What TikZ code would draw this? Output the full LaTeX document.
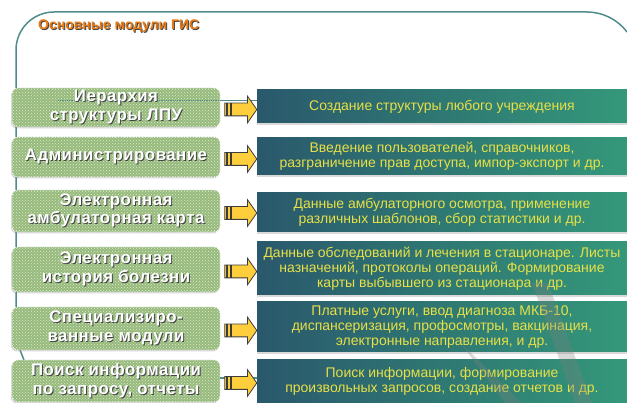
\documentclass[tikz,border=0pt]{standalone}
\usepackage{fontspec}
\setmainfont{Liberation Sans}
\newfontfamily\modfont[LetterSpace=3]{Liberation Sans}
\usetikzlibrary{
    positioning,
    shapes.arrows,
    patterns,
    shadows
}
\definecolor{FrameTeal}{RGB}{80,140,140}
\definecolor{ModGreen}{RGB}{150,186,124}
\definecolor{ModDots}{RGB}{226,236,212}
\definecolor{DescLeft}{RGB}{42,88,108}
\definecolor{DescRight}{RGB}{52,152,122}
\definecolor{DescText}{RGB}{232,224,70}
\definecolor{ArrowYellow}{RGB}{255,206,60}
\definecolor{ArrowEdge}{RGB}{60,60,60}
\definecolor{TitleOrange}{RGB}{232,122,20}
\definecolor{ShadowGrey}{RGB}{70,70,70}

% text with a small grey shadow behind it
\newcommand{\shtxt}[2][ShadowGrey]{\makebox[0pt][l]{\hspace{1pt}\raisebox{-1pt}{\color{#1}#2}}#2}

\begin{document}
\begin{tikzpicture}[
    x=1pt, y=-1pt,
    frameline/.style={draw=FrameTeal, line width=1.5pt},
    modbox/.style={minimum width=208pt, rounded corners=6pt, draw=white, densely dotted, line width=0.8pt,
        drop shadow={shadow xshift=-1pt, shadow yshift=-1.5pt, opacity=0.35},
        preaction={fill=ModGreen}, pattern=crosshatch dots, pattern color=ModDots,
        text=white, font=\modfont\bfseries\fontsize{16.8}{18.5}\selectfont, align=center, inner sep=0pt},
    descbox/.style={minimum width=370pt, left color=DescLeft, right color=DescRight,
        drop shadow={shadow xshift=0pt, shadow yshift=-2pt, opacity=0.3},
        text=DescText, font=\fontsize{14}{15}\selectfont, align=center, inner sep=0pt},
    yarrow/.style={single arrow, draw=ArrowEdge, fill=ArrowYellow, line width=0.8pt,
        minimum height=32pt, inner sep=6pt, single arrow head extend=7pt,
        single arrow tip angle=110, anchor=tail,
        path picture={
            \fill[ArrowEdge] ([xshift=1pt]path picture bounding box.south west) rectangle ([xshift=3pt]path picture bounding box.north west);
            \fill[ArrowEdge] ([xshift=5pt]path picture bounding box.south west) rectangle ([xshift=7pt]path picture bounding box.north west);
        }},
]
    \useasboundingbox (0,0) rectangle (627,403);

    % Frame
    \draw[frameline] (26,365) -- (16,340) -- (16,50) arc[start angle=180, end angle=90, radius=38pt]
        -- (587,12) arc[start angle=90, end angle=37, radius=50pt];

    % Title
    \node[anchor=west, inner sep=0pt, text=TitleOrange, font=\bfseries\fontsize{14}{16}\selectfont] (title) at (38,27)
        {\shtxt{Основные модули ГИС}};

    % Modules (left)
    \node[modbox, minimum height=39pt,
        path picture={\draw[frameline] ([xshift=46pt,yshift=7pt]path picture bounding box.west) -- ([yshift=7pt]path picture bounding box.east);}]
        (m1) at (116,107.5) {\shtxt{Иерархия}\\\shtxt{структуры ЛПУ}};
    \node[modbox, minimum height=40pt] (m2) at (116,157) {\shtxt{Администрирование}};
    \node[modbox, minimum height=42pt] (m3) at (116,211) {\shtxt{Электронная}\\\shtxt{амбулаторная карта}};
    \node[modbox, minimum height=45pt] (m4) at (116,269.5) {\shtxt{Электронная}\\\shtxt{история болезни}};
    \node[modbox, minimum height=43pt] (m5) at (116,328.5) {\shtxt{Специализиро-}\\\shtxt{ванные модули}};
    \node[modbox, minimum height=42pt] (m6) at (116,381) {\shtxt{Поиск информации}\\\shtxt{по запросу, отчеты}};

    % Descriptions (right)
    \node[descbox, minimum height=33pt] (d1) at (442,106.5) {Создание структуры любого учреждения};
    \node[descbox, minimum height=37pt] (d2) at (442,156.5) {Введение пользователей, справочников,\\разграничение прав доступа, импор-экспорт и др.};
    \node[descbox, minimum height=39pt] (d3) at (442,212.5) {Данные амбулаторного осмотра, применение\\различных шаблонов, сбор статистики и др.};
    \node[descbox, minimum height=53pt] (d4) at (442,268.5) {Данные обследований и лечения в стационаре. Листы\\назначений, протоколы операций. Формирование\\карты выбывшего из стационара и др.};
    \node[descbox, minimum height=50pt] (d5) at (442,327) {Платные услуги, ввод диагноза МКБ-10,\\диспансеризация, профосмотры, вакцинация,\\электронные направления, и др.};
    \node[descbox, minimum height=43pt] (d6) at (442,381.5) {Поиск информации, формирование\\произвольных запросов, создание отчетов и др.};

    % Lines between the columns
    \draw[frameline] ([yshift=7pt]m1.east) -- ([yshift=7pt]m1.east -| d1.west);
    \draw[frameline] ([yshift=3pt]m6.east) -- ([yshift=3pt]m6.east -| d6.west);

    % Arrows
    \foreach \i in {1,...,6} {
        \node[yarrow] (a\i) at ([xshift=4pt,yshift=-2pt]m\i.east) {};
    }

    % Faded marks over the lower boxes
    \fill[gray, opacity=0.3] (532,283) -- (548,283) -- (592,403) -- (575,403) -- cycle;
    \fill[gray, opacity=0.3] (462,345) -- (470,352) -- (522,403) -- (505,403) -- cycle;

\end{tikzpicture}
\end{document}
